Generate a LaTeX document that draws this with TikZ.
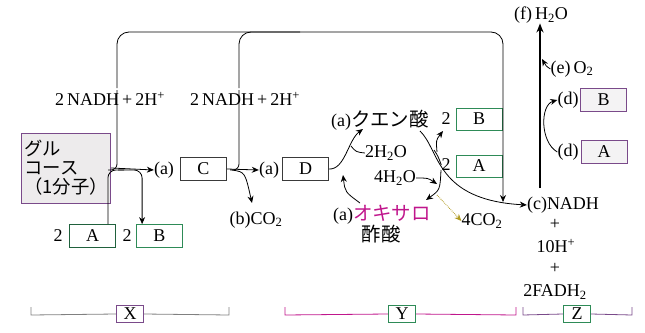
\documentclass[tikz,border=0pt]{standalone}
\usepackage{fontspec}
\setmainfont{Liberation Serif}
\newfontfamily\jp[Scale=1.08]{Noto Sans CJK JP}
\definecolor{boxgray}{HTML}{EDEBEC}
\definecolor{boxline}{HTML}{3A3A3A}
\definecolor{grnline}{HTML}{2E8B57}
\definecolor{purline}{HTML}{7A4A8A}
\definecolor{magtxt}{HTML}{C0168C}
\definecolor{dotcol}{HTML}{B09A20}
\usetikzlibrary{arrows.meta,positioning}

\begin{document}
\begin{tikzpicture}[x=1pt,y=-1pt,font=\fontsize{18}{20}\selectfont,
  lbl/.style={inner sep=0pt},
  sbox/.style={draw=boxline,line width=0.8pt,minimum width=46pt,minimum height=23pt,inner sep=0pt},
  gbox/.style={sbox,draw=grnline},
  pbox/.style={sbox,draw=purline,fill=boxgray!60},
  arr/.style={-{Stealth[length=7pt,width=6pt]},line width=0.8pt},
  ln/.style={line width=0.8pt},
  brk/.style={line width=0.8pt,gray},
  tag/.style={draw,line width=1pt,minimum width=27pt,minimum height=17pt,inner sep=0pt}]
\useasboundingbox (0,0) rectangle (645,332);
% glycolysis
\node[draw=purline,fill=boxgray,line width=0.8pt,minimum width=76pt,minimum height=70pt,align=left,inner sep=3pt,
  font=\jp\fontsize{17}{19}\selectfont] (glc) at (66,168) {グル\\コース\\（1分子）};
\node[lbl] (aC) at (164,170) {(a)};
\node[sbox] (bC) at (203.5,169) {C};
\node[lbl] (aD) at (269,170) {(a)};
\node[sbox] (bD) at (305.5,169) {D};
\node[lbl] (co2b) at (256,220) {(b)CO\textsubscript{2}};
\node[lbl] (nA2) at (58,236) {2};
\node[sbox,draw=grnline!70!black] (bA) at (92.5,236) {A};
\node[lbl] (nB2) at (127,236) {2};
\node[gbox] (bB) at (159.5,236) {B};
\node[lbl,fill=white,inner sep=2pt] (nadhA) at (110,99) {2\,NADH\,+\,2H\textsuperscript{+}};
\node[lbl,fill=white,inner sep=2pt] (nadhB) at (245,99) {2\,NADH\,+\,2H\textsuperscript{+}};
\draw[arr] (glc.east) -- (aC.west);
\draw[ln,rounded corners=8pt] ([xshift=-8pt]bA.north east) |- (124,170);
\draw[arr,rounded corners=8pt] (118,170) -| ([xshift=6pt]bB.north west);
\draw[ln,rounded corners=6pt] (108,170) -| (117,107) -- (117,90);
\draw[arr] (bC.east) -- (aD.west);
\draw[ln,rounded corners=6pt] (230,170) -| (239,107) -- (239,90);
\draw[arr] (232,170) .. controls (245,172) .. (252,203);
% citric acid cycle
\node[lbl] (cit) at (380,120) {(a){\jp クエン酸}};
\node[lbl] (nB3) at (446,119) {2};
\node[gbox,minimum height=22pt] (cB) at (479,119) {B};
\node[lbl] (nA3) at (446,165) {2};
\node[gbox,minimum height=22pt] (cA) at (479,166) {A};
\node[lbl] (h2) at (386,153) {2H\textsubscript{2}O};
\node[lbl] (h4) at (395,178) {4H\textsubscript{2}O};
\node[lbl] (oxa) at (382,215) {(a){\jp\color{magtxt}オキサロ}};
\node[lbl] (oxb) at (381,234) {\jp 酢酸};
\node[lbl] (co2d) at (482,221) {4CO\textsubscript{2}};
\draw[arr] (bD.east) .. controls (345,170) and (348,140) .. (363,129);
\draw[arr] (360,203) .. controls (345,192) .. (343,175);
\draw[ln] (h2.west) .. controls (356,152) .. (351,146);
\draw[arr] (441,170) .. controls (440,190) .. (426,200);
\draw[arr] (h4.east) .. controls (428,178) .. (437,184);
\draw[arr] (437,152) .. controls (436,140) .. (443,131);
\draw[ln] (nA3.west) .. controls (438,156) .. (434,150);
\draw[arr,densely dotted,dotcol] (437,195) -- (co2d.west);
% electron transport
\node[lbl] (nadhc) at (563,205) {(c)NADH};
\node[lbl] (pl1) at (555,224) {+};
\node[lbl] (h10) at (556,246) {10H\textsuperscript{+}};
\node[lbl] (pl2) at (555,268) {+};
\node[lbl] (fadh) at (555,292) {2FADH\textsubscript{2}};
\draw[arr] (420,131) .. controls (440,150) and (435,200) .. (nadhc.west);
\draw[arr,rounded corners=12pt] (117,88) |- (503,32) -- (503,202);
\draw[ln,rounded corners=12pt] (239,88) |- (300,32);
\node[lbl] (h2of) at (541,15) {(f)\,H\textsubscript{2}O};
\node[lbl] (eo) at (572,69) {(e)\,O\textsubscript{2}};
\node[lbl] (dB) at (568,100) {(d)};
\node[pbox] (eB) at (603.5,100) {B};
\node[lbl] (dA) at (568,152) {(d)};
\node[pbox] (eA) at (604,151.5) {A};
\coordinate (etcbot) at (540,188);
\draw[-{Stealth[length=9pt,width=7pt]},line width=2.2pt] (etcbot) -- (h2of.south -| etcbot);
\draw[arr] (eo.west) .. controls (546,66) .. (542,59);
\draw[arr] (dA.west) .. controls (540,142) and (540,105) .. (dB.west);
% stages
\node[tag,draw=purline] (X) at (130,314) {X};
\node[tag,draw=grnline] (Y) at (402,314) {Y};
\node[tag,draw=grnline] (Z) at (577,314) {Z};
\draw[brk] (X.west) -- (31,315) -- (31,307);
\draw[brk] (X.east) -- (229,315) -- (229,307);
\draw[brk,magtxt] (Y.west) -- (285,315) -- (285,307);
\draw[brk,magtxt] (Y.east) -- (516,315) -- (516,307);
\draw[brk,purline] (Z.west) -- (523,315) -- (523,307);
\draw[brk,purline] (Z.east) -- (632,315) -- (632,307);
\end{tikzpicture}
\end{document}
